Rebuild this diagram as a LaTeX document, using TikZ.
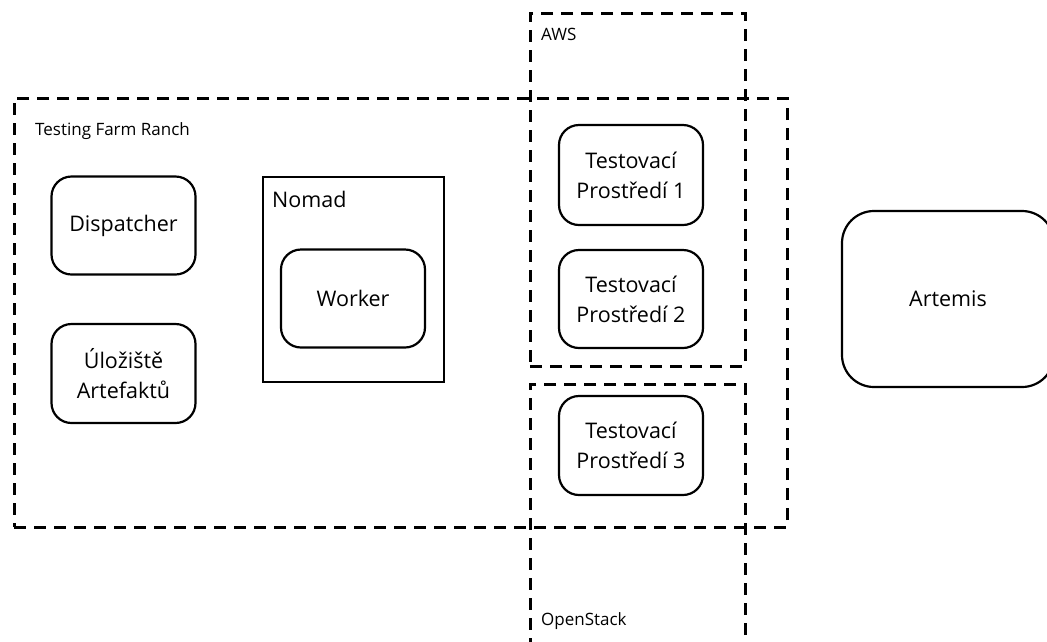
\documentclass[tikz,border=0pt]{standalone}
\usepackage{fontspec}
\setmainfont{Open Sans}
\usetikzlibrary{positioning}

\begin{document}
\begin{tikzpicture}[x=1pt,y=-1pt,
		box/.style={draw,line width=2.2pt,rounded corners=20pt,align=center,font=\fontsize{21.5}{30}\selectfont,minimum width=144pt,minimum height=98pt},
		zone/.style={draw,line width=3pt,dash pattern=on 12pt off 8pt,minimum width=215pt},
		tag/.style={anchor=west,inner sep=0pt,font=\fontsize{17}{20}\selectfont}]
		\useasboundingbox (0,0) rectangle (1047,641);% size of the reference
		\clip (0,0) rectangle (1047,641);
		% dashed zones
		\node[zone,minimum width=773pt,minimum height=429pt] (ranch) at (400.5,312.5) {};
		\node[zone,minimum height=353pt] (aws) at (637.5,189.5) {};
		\node[zone,minimum height=316pt] (openstack) at (637.5,542) {};
		\node[tag] (ranchlabel) at (35,131) {Testing Farm Ranch};
		\node[tag] (awslabel) at (541,34) {AWS};
		\node[tag] (openstacklabel) at (541,621) {OpenStack};
		% ranch
		\node[box] (dispatcher) at (123.5,225.5) {Dispatcher};
		\node[box,minimum height=99pt] (storage) at (123.5,373.5) {Úložiště\\Artefaktů};
		\node[draw,line width=2.2pt,minimum width=181pt,minimum height=205pt] (nomad) at (353.5,279.5) {};
		\node[tag,font=\fontsize{21.5}{24}\selectfont] (nomadlabel) at (272,199) {Nomad};
		\node[box] (worker) at (353,298.5) {Worker};
		% environments
		\node[box,minimum height=100pt] (env1) at (631,175) {Testovací\\Prostředí 1};
		\node[box] (env2) at (631,299) {Testovací\\Prostředí 2};
		\node[box,minimum height=99pt] (env3) at (631,445.5) {Testovací\\Prostředí 3};
		\node[box,rounded corners=32pt,minimum width=212pt,minimum height=176pt] (artemis) at (948,299) {Artemis};
	\end{tikzpicture}
\end{document}
